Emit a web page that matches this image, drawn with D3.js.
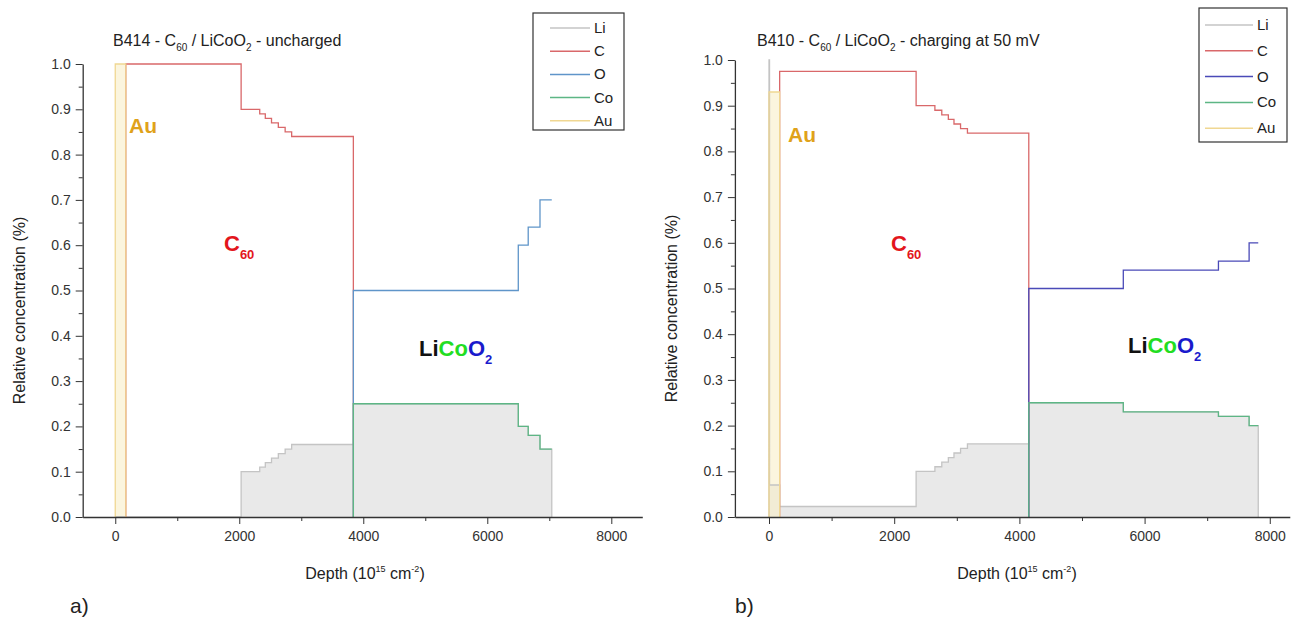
<!DOCTYPE html>
<html><head><meta charset="utf-8">
<script src="https://cdn.jsdelivr.net/npm/d3@7"></script>
<style>
body{margin:0;background:#fff}
svg{display:block}
text{font-family:"Liberation Sans",Arial,sans-serif}
</style>
</head><body>
<svg id="chart" width="1293" height="621"></svg>
<script>
// ---------- shared labels ----------
const seriesNames = ["Li", "C", "O", "Co", "Au"];
const xMajorTicks = [0, 2000, 4000, 6000, 8000];
const xMinorTicks = [1000, 3000, 5000, 7000];
const yMajorTicks = [0, 0.1, 0.2, 0.3, 0.4, 0.5, 0.6, 0.7, 0.8, 0.9, 1.0];
const yMinorTicks = [0.05, 0.15, 0.25, 0.35, 0.45, 0.55, 0.65, 0.75, 0.85, 0.95];

// ---------- panel a: B414 uncharged (step profiles: value holds from depth[i] to depth[i+1]) ----------
const aLiDepth = [0, 2030, 2330, 2420, 2520, 2630, 2740, 2845, 3840, 6500, 6660, 6850, 7040];
const aLiValue = [0, 0.10, 0.11, 0.12, 0.13, 0.14, 0.15, 0.16, 0.25, 0.20, 0.18, 0.15, 0];
const aCDepth = [170, 170, 2030, 2330, 2420, 2520, 2630, 2740, 2845, 3840];
const aCValue = [0, 1.0, 0.90, 0.89, 0.88, 0.87, 0.86, 0.85, 0.84, 0];
const aODepth = [3840, 3840, 6500, 6660, 6850, 7040];
const aOValue = [0, 0.50, 0.60, 0.64, 0.70, 0.70];
const aCoDepth = [3840, 3840, 6500, 6660, 6850, 7040];
const aCoValue = [0, 0.25, 0.20, 0.18, 0.15, 0.15];
const aAuDepth = [0, 0, 170];
const aAuValue = [0, 1.0, 0];

// ---------- panel b: B410 charging at 50 mV ----------
const bLiDepth = [0, 0, 8, 170, 2350, 2650, 2760, 2865, 2955, 3060, 3170, 4150, 5660, 7180, 7670, 7816];
const bLiValue = [0, 1.0, 0.07, 0.023, 0.10, 0.11, 0.12, 0.13, 0.14, 0.15, 0.16, 0.25, 0.23, 0.22, 0.20, 0];
const bCDepth = [170, 170, 2350, 2650, 2760, 2865, 2955, 3060, 3170, 4150];
const bCValue = [0, 0.975, 0.90, 0.89, 0.88, 0.87, 0.86, 0.85, 0.84, 0];
const bODepth = [4150, 4150, 5660, 7180, 7670, 7816];
const bOValue = [0, 0.50, 0.54, 0.56, 0.60, 0.60];
const bCoDepth = [4150, 4150, 5660, 7180, 7670, 7816];
const bCoValue = [0, 0.25, 0.23, 0.22, 0.20, 0.20];
const bAuDepth = [0, 0, 170];
const bAuValue = [0, 0.93, 0];

const svg = d3.select("#chart");

function zip(d, v) { return d.map((x, i) => [x, v[i]]); }

function drawPanel(p) {
  const x = d3.scaleLinear().domain(p.xDomain).range(p.xRange);
  const y = d3.scaleLinear().domain([0, 1]).range(p.yRange);
  const g = svg.append("g");
  const line = d3.line().x(d => x(d[0])).y(d => y(d[1])).curve(d3.curveStepAfter);
  const area = d3.area().x(d => x(d[0])).y0(y(0)).y1(d => y(d[1])).curve(d3.curveStepAfter);

  // fills
  g.append("path").attr("d", area(zip(p.li[0], p.li[1]))).attr("fill", "#e9e9e9");
  g.append("path").attr("d", area(zip(p.au[0], p.au[1]))).attr("fill", "#f8eec8").attr("fill-opacity", 0.6);

  // lines in legend order
  const series = [
    {d: p.li, c: p.colors[0]}, {d: p.c, c: p.colors[1]}, {d: p.o, c: p.colors[2]},
    {d: p.co, c: p.colors[3]}, {d: p.au, c: p.colors[4]}
  ];
  series.forEach(s => {
    g.append("path").attr("d", line(zip(s.d[0], s.d[1]))).attr("fill", "none")
      .attr("stroke", s.c).attr("stroke-width", 1.3);
  });

  // axes (on top of data)
  g.append("g").attr("transform", `translate(0,${p.yRange[0]})`)
    .call(d3.axisBottom(x).tickValues(xMajorTicks).tickSize(7).tickSizeOuter(0).tickPadding(7).tickFormat(d3.format("d")));
  g.append("g").attr("transform", `translate(0,${p.yRange[0]})`)
    .call(d3.axisBottom(x).tickValues(xMinorTicks).tickSize(4).tickSizeOuter(0).tickFormat(""))
    .select(".domain").remove();
  g.append("g").attr("transform", `translate(${p.xRange[0]},0)`)
    .call(d3.axisLeft(y).tickValues(yMajorTicks).tickSize(7).tickSizeOuter(0).tickPadding(5).tickFormat(d3.format(".1f")));
  g.append("g").attr("transform", `translate(${p.xRange[0]},0)`)
    .call(d3.axisLeft(y).tickValues(yMinorTicks).tickSize(4).tickSizeOuter(0).tickFormat(""))
    .select(".domain").remove();
  g.selectAll(".domain").attr("stroke", "#333").attr("stroke-width", 1.3);
  g.selectAll(".tick line").attr("stroke", "#333");
  g.selectAll(".tick text").attr("font-size", 14).attr("fill", "#333").attr("font-family", "Liberation Sans, Arial");

  // axis titles
  g.append("text").attr("transform", `translate(${p.yLabelX},${(p.yRange[0] + p.yRange[1]) / 2 + 20}) rotate(-90)`)
    .attr("text-anchor", "middle").attr("font-size", 16).attr("fill", "#222").text("Relative concentration (%)");
  const xl = g.append("text").attr("x", p.xLabelX).attr("y", 579).attr("text-anchor", "middle")
    .attr("font-size", 16).attr("fill", "#222");
  xl.append("tspan").text("Depth (10");
  xl.append("tspan").attr("dy", -7).attr("font-size", 9).text("15");
  xl.append("tspan").attr("dy", 7).text(" cm");
  xl.append("tspan").attr("dy", -7).attr("font-size", 9).text("-2");
  xl.append("tspan").attr("dy", 7).text(")");

  // title
  const t = g.append("text").attr("x", p.titleX).attr("y", 46).attr("font-size", 16).attr("fill", "#222");
  t.append("tspan").text("B41" + p.id + " - C");
  t.append("tspan").attr("dy", 5).attr("font-size", 10).text("60");
  t.append("tspan").attr("dy", -5).text(" / LiCoO");
  t.append("tspan").attr("dy", 5).attr("font-size", 10).text("2");
  t.append("tspan").attr("dy", -5).text(p.titleTail);

  // in-plot labels
  g.append("text").attr("x", p.auLabel[0]).attr("y", p.auLabel[1]).attr("font-size", 21)
    .attr("font-weight", "bold").attr("fill", "#e0a21a").text("Au");
  const c60 = g.append("text").attr("x", p.c60Label[0]).attr("y", p.c60Label[1]).attr("font-size", 22)
    .attr("font-weight", "bold").attr("fill", "#e3161c");
  c60.append("tspan").text("C");
  c60.append("tspan").attr("dy", 8).attr("font-size", 13).text("60");
  const lc = g.append("text").attr("x", p.licoLabel[0]).attr("y", p.licoLabel[1]).attr("font-size", 22)
    .attr("font-weight", "bold");
  lc.append("tspan").attr("fill", "#111").text("Li");
  lc.append("tspan").attr("fill", "#22dd22").text("Co");
  lc.append("tspan").attr("fill", "#1a1acc").text("O");
  lc.append("tspan").attr("fill", "#1a1acc").attr("dy", 8).attr("font-size", 13).text("2");

  // panel letter
  g.append("text").attr("x", p.letter[0]).attr("y", p.letter[1]).attr("font-size", 21)
    .attr("font-family", "Open Sans, sans-serif").attr("fill", "#222").text(p.letterText);

  // legend
  const L = p.legend;
  g.append("rect").attr("x", L.x).attr("y", L.y).attr("width", L.w).attr("height", L.h)
    .attr("fill", "#fff").attr("stroke", "#333").attr("stroke-width", 1.2);
  seriesNames.forEach((n, i) => {
    const yy = L.y0 + i * L.dy;
    g.append("line").attr("x1", L.lx1).attr("x2", L.lx2).attr("y1", yy).attr("y2", yy)
      .attr("stroke", p.colors[i]).attr("stroke-width", 1.5);
    g.append("text").attr("x", L.tx).attr("y", yy + 5).attr("font-size", 15).attr("fill", "#222").text(n);
  });
}

drawPanel({
  id: "4", titleTail: " - uncharged", titleX: 113,
  xDomain: [-525, 8500], xRange: [82.7, 642.3], yRange: [517, 64],
  yLabelX: 25, xLabelX: 365,
  li: [aLiDepth, aLiValue], c: [aCDepth, aCValue], o: [aODepth, aOValue],
  co: [aCoDepth, aCoValue], au: [aAuDepth, aAuValue],
  colors: ["#c4c4c4", "#d9686a", "#5f95c9", "#5db685", "#f0d792"],
  auLabel: [129, 133], c60Label: [224, 251], licoLabel: [419, 356],
  letter: [70, 613], letterText: "a)",
  legend: {x: 533, y: 13, w: 91, h: 117, y0: 28, dy: 23.2, lx1: 550, lx2: 590, tx: 594}
});

drawPanel({
  id: "0", titleTail: " - charging at 50 mV", titleX: 757,
  xDomain: [-545, 8320], xRange: [734.9, 1289.8], yRange: [517, 60],
  yLabelX: 677, xLabelX: 1017,
  li: [bLiDepth, bLiValue], c: [bCDepth, bCValue], o: [bODepth, bOValue],
  co: [bCoDepth, bCoValue], au: [bAuDepth, bAuValue],
  colors: ["#c4c4c4", "#d9686a", "#4a4ab8", "#5db685", "#f0d792"],
  auLabel: [788, 142], c60Label: [891, 251], licoLabel: [1128, 353],
  letter: [735, 613], letterText: "b)",
  legend: {x: 1199, y: 8, w: 88, h: 134, y0: 25, dy: 25.8, lx1: 1205, lx2: 1253, tx: 1257}
});
</script>
</body></html>
